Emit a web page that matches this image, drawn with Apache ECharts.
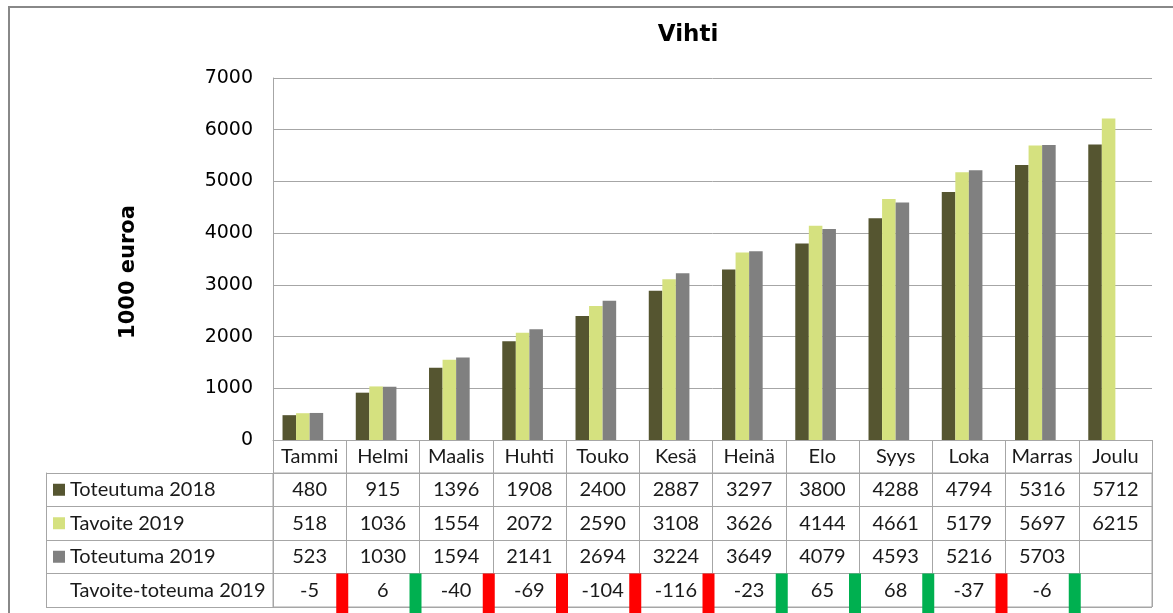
<!DOCTYPE html>
<html>
<head>
<meta charset="utf-8">
<script src="https://cdn.jsdelivr.net/npm/echarts@6/dist/echarts.min.js"></script>
<style>
  html, body { margin: 0; padding: 0; background: #fff; }
  #chart { width: 1173px; height: 613px; }
</style>
</head>
<body>
<div id="chart"></div>
<script>
// kuukaudet ja sarjat (1000 euroa)
const months = ["Tammi", "Helmi", "Maalis", "Huhti", "Touko", "Kesä", "Heinä", "Elo", "Syys", "Loka", "Marras", "Joulu"];
const toteutuma2018 = [480, 915, 1396, 1908, 2400, 2887, 3297, 3800, 4288, 4794, 5316, 5712];
const tavoite2019 = [518, 1036, 1554, 2072, 2590, 3108, 3626, 4144, 4661, 5179, 5697, 6215];
const toteutuma2019 = [523, 1030, 1594, 2141, 2694, 3224, 3649, 4079, 4593, 5216, 5703, null];
const erotus2019 = [-5, 6, -40, -69, -104, -116, -23, 65, 68, -37, -6, null];
// suunta edelliseen kuukauteen nähden: "ylos" = vihreä, "alas" = punainen
const suunta = ["alas", "ylos", "alas", "alas", "alas", "alas", "ylos", "ylos", "ylos", "alas", "ylos", null];
const rowNames = ["Toteutuma 2018", "Tavoite 2019", "Toteutuma 2019", "Tavoite-toteuma 2019"];
const yTicks = [0, 1000, 2000, 3000, 4000, 5000, 6000, 7000];

const COLORS = ["#555530", "#d5e17f", "#808080", "rgba(0,0,0,0)"];
const LINE = "#a6a6a6";
const TABLEFONT = "Lato";
const TABLESIZE = 20;
const GRIDLEFT = 273;
const GRIDRIGHT = 21;
const LABELCOL = 227;

const chart = echarts.init(document.getElementById("chart"));

// taulukon solut: [sarake, rivi, teksti]
const cells = [];
[toteutuma2018, tavoite2019, toteutuma2019, erotus2019].forEach((arr, r) => {
  arr.forEach((v, c) => {
    if (v !== null) cells.push([c, r, String(v)]);
  });
});
const markers = [];
suunta.forEach((s, c) => {
  if (s) markers.push([c, 3, s]);
});

const rich = {
  t: { fontFamily: TABLEFONT, fontSize: TABLESIZE, color: "#1a1a1a", padding: [0, 0, 0, 5] },
  n: { width: 12, height: 12 },
};
COLORS.slice(0, 3).forEach((c, i) => {
  rich["k" + i] = { width: 12, height: 12, backgroundColor: c };
});

const option = {
  backgroundColor: "#fff",
  animation: false,
  title: {
    text: "Vihti",
    left: 688,
    textAlign: "center",
    top: 24,
    padding: 0,
    textStyle: { fontFamily: "DejaVu Sans", fontWeight: "bold", fontSize: 23, color: "#000" },
  },
  graphic: [
    {
      type: "rect",
      shape: { x: 9, y: 7, width: 1300, height: 700 },
      style: { fill: "none", stroke: "#888", lineWidth: 2 },
      silent: true,
    },
  ],
  grid: [
    { left: GRIDLEFT, right: GRIDRIGHT, top: 78, bottom: 173 },
    { left: GRIDLEFT, right: GRIDRIGHT, top: 473, bottom: 6, show: true, borderColor: LINE, borderWidth: 1, backgroundColor: "transparent" },
  ],
  xAxis: [
    {
      type: "category",
      gridIndex: 0,
      data: months,
      axisLine: { lineStyle: { color: LINE, width: 1 } },
      axisTick: { show: true, interval: 0, length: 33, lineStyle: { color: LINE } },
      axisLabel: { interval: 0, margin: 7, fontFamily: TABLEFONT, fontSize: TABLESIZE, color: "#1a1a1a" },
      splitLine: { show: false },
    },
    {
      type: "category",
      gridIndex: 1,
      data: months,
      axisLine: { show: false },
      axisTick: { show: false },
      axisLabel: { show: false },
      splitLine: { show: true, interval: 0, lineStyle: { color: LINE } },
    },
  ],
  yAxis: [
    {
      type: "value",
      gridIndex: 0,
      min: yTicks[0],
      max: yTicks[yTicks.length - 1],
      interval: 1000,
      name: "1000 euroa",
      nameLocation: "middle",
      nameGap: 134,
      nameTextStyle: { fontFamily: "DejaVu Sans", fontWeight: "bold", fontSize: 21, color: "#000", padding: [0, 26, 0, 0] },
      axisLine: { show: true, lineStyle: { color: LINE } },
      axisTick: { show: false },
      axisLabel: { margin: 20, fontFamily: "DejaVu Sans", fontSize: 19, color: "#000", formatter: (v) => String(v) },
      splitLine: { show: true, lineStyle: { color: LINE } },
    },
    {
      type: "category",
      gridIndex: 1,
      data: rowNames,
      inverse: true,
      axisLine: { show: true, lineStyle: { color: LINE } },
      axisTick: { show: true, interval: 0, length: LABELCOL, lineStyle: { color: LINE } },
      axisLabel: {
        interval: 0,
        align: "left",
        margin: 220,
        formatter: (v, i) => (i < 3 ? `{k${i}|}{t|${v}}` : `{n|}{t|${v}}`),
        rich: rich,
      },
      splitLine: { show: true, interval: 0, lineStyle: { color: LINE } },
    },
    {
      // vasen reuna rivinimien sarakkeelle
      type: "category",
      gridIndex: 1,
      data: rowNames,
      position: "left",
      offset: LABELCOL,
      axisLine: { show: true, lineStyle: { color: LINE } },
      axisTick: { show: false },
      axisLabel: { show: false },
      splitLine: { show: false },
    },
  ],
  series: [
    { name: rowNames[0], type: "bar", xAxisIndex: 0, yAxisIndex: 0, data: toteutuma2018, itemStyle: { color: COLORS[0] }, barGap: "0%", barCategoryGap: "26%" },
    { name: rowNames[1], type: "bar", xAxisIndex: 0, yAxisIndex: 0, data: tavoite2019, itemStyle: { color: COLORS[1] } },
    { name: rowNames[2], type: "bar", xAxisIndex: 0, yAxisIndex: 0, data: toteutuma2019, itemStyle: { color: COLORS[2] } },
    { name: rowNames[3], type: "bar", xAxisIndex: 0, yAxisIndex: 0, data: erotus2019, itemStyle: { color: COLORS[3] } },
    {
      name: "taulukko",
      type: "custom",
      xAxisIndex: 1,
      yAxisIndex: 1,
      data: cells,
      renderItem: (params, api) => {
        const p = api.coord([api.value(0), api.value(1)]);
        return {
          type: "text",
          x: p[0],
          y: p[1],
          style: {
            text: cells[params.dataIndex][2],
            align: "center",
            verticalAlign: "middle",
            fontFamily: TABLEFONT,
            fontSize: TABLESIZE,
            fill: "#1a1a1a",
          },
        };
      },
    },
    {
      name: "suunta",
      type: "custom",
      xAxisIndex: 1,
      yAxisIndex: 1,
      clip: false,
      data: markers,
      renderItem: (params, api) => {
        const p = api.coord([api.value(0), api.value(1)]);
        const bw = api.size([1, 0])[0];
        const rh = api.size([0, 1])[1];
        const up = markers[params.dataIndex][2] === "ylos";
        return {
          type: "rect",
          shape: { x: p[0] + bw / 2 - 10, y: p[1] - rh / 2, width: 12, height: rh + 6 },
          style: { fill: up ? "#00b050" : "#ff0000" },
        };
      },
    },
  ],
};

chart.setOption(option);
</script>
</body>
</html>
